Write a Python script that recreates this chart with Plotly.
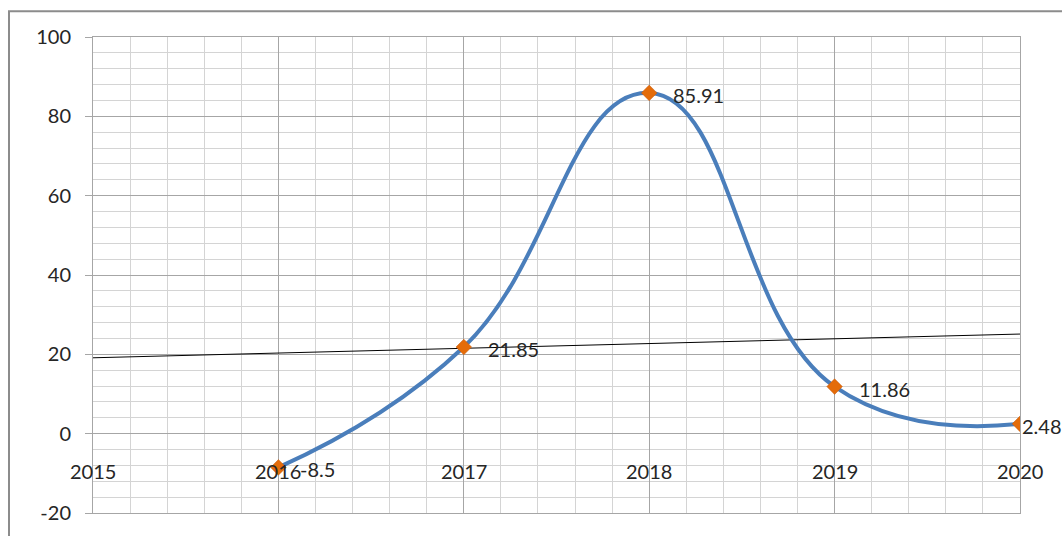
import numpy as np
import plotly.graph_objects as go

# Yearly values
years = [2016, 2017, 2018, 2019, 2020]
values = [-8.5, 21.85, 85.91, 11.86, 2.48]
value_labels = ["-8.5", "21.85", "85.91", "11.86", "2.48"]
year_ticks = [2015, 2016, 2017, 2018, 2019, 2020]
y_ticks = [-20, 0, 20, 40, 60, 80, 100]
y_tick_labels = ["-20", "0", "20", "40", "60", "80", "100"]

FONT = "Lato"
TXT = "#262626"
LINE_BLUE = "#4A7EBB"
MARKER_ORANGE = "#E46C0A"
MAJOR_GRID = "#A6A6A6"
MINOR_GRID = "#D4D4D4"

# linear trend, projected back one period to 2015
slope, intercept = np.polyfit(years, values, 1)
trend_x = [year_ticks[0], year_ticks[-1]]
trend_y = [slope * x + intercept for x in trend_x]

fig = go.Figure()

fig.add_trace(go.Scatter(
    x=trend_x, y=trend_y, mode="lines",
    line=dict(color="#000000", width=1),
    hoverinfo="skip", showlegend=False,
))

fig.add_trace(go.Scatter(
    x=years, y=values, mode="lines+markers",
    line=dict(color=LINE_BLUE, width=4, shape="spline", smoothing=1.3),
    marker=dict(symbol="diamond", size=12, color=MARKER_ORANGE,
                line=dict(color="#C55A11", width=0.5)),
    showlegend=False,
))

annotations = []
# data labels to the right of each point
label_xshift = [20, 22, 22, 22, 0]
for x, y, t, dx in zip(years, values, value_labels, label_xshift):
    annotations.append(dict(
        x=x, y=y, xref="x", yref="y", text=t, showarrow=False,
        xanchor="left", yanchor="middle", xshift=dx, yshift=-2,
        font=dict(family=FONT, size=20, color=TXT),
    ))

# category labels sit just under the zero line
for yr in year_ticks:
    annotations.append(dict(
        x=yr, y=-9.3, xref="x", yref="y", text=str(yr), showarrow=False,
        xanchor="center", yanchor="middle",
        font=dict(family=FONT, size=20, color=TXT),
    ))

fig.update_layout(
    width=1062, height=536,
    margin=dict(l=93, r=42, t=37, b=20),
    paper_bgcolor="white", plot_bgcolor="white",
    annotations=annotations,
    shapes=[dict(
        type="rect", xref="paper", yref="paper",
        x0=(9 - 93) / 927, x1=1.2, y0=-0.2, y1=(516 - 11) / 479,
        line=dict(color="#8C8C8C", width=2), fillcolor="rgba(0,0,0,0)",
        layer="below",
    )],
)

fig.update_xaxes(
    range=[2015, 2020], dtick=1, tick0=2015,
    showticklabels=False, ticks="",
    showgrid=True, gridcolor=MAJOR_GRID, gridwidth=1,
    minor=dict(dtick=0.2, tick0=2015, showgrid=True, gridcolor=MINOR_GRID, gridwidth=1),
    showline=True, linecolor=MAJOR_GRID, linewidth=1, mirror=True,
    zeroline=False,
)

fig.update_yaxes(
    range=[-20, 100], tickmode="array", tickvals=y_ticks, ticktext=y_tick_labels,
    ticks="outside", ticklen=7, tickcolor=MAJOR_GRID,
    tickfont=dict(family=FONT, size=20, color=TXT),
    ticklabelstandoff=10,
    showgrid=True, gridcolor=MAJOR_GRID, gridwidth=1,
    minor=dict(dtick=4, tick0=0, showgrid=True, gridcolor=MINOR_GRID, gridwidth=1),
    showline=True, linecolor=MAJOR_GRID, linewidth=1, mirror=True,
    zeroline=False,
)

fig.write_html("out.html")
